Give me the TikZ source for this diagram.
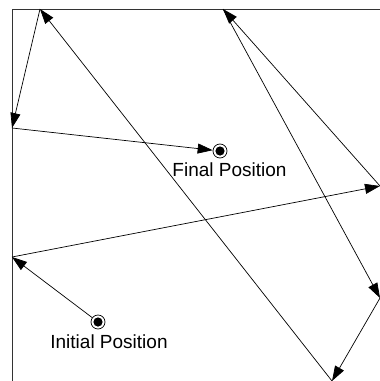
\documentclass[tikz,border=0pt]{standalone}
\usepackage{fontspec}
\setmainfont{Liberation Sans}
\usetikzlibrary{arrows.meta}
\begin{document}
\begin{tikzpicture}[x=1pt,y=-1pt,
  wall/.style={draw=black!80,line width=0.9pt},
  path seg/.style={draw=black,line width=0.7pt},
  arr/.style={path seg,-{Triangle[length=15pt,width=10pt]}},
  marker/.style={circle,draw=black,line width=0.7pt,inner sep=0pt,minimum size=14pt},
  lbl/.style={inner sep=0pt,font=\fontsize{19}{22}\selectfont}]
\useasboundingbox (0,0) rectangle (380,381);
\coordinate (TL) at (12,9);
\coordinate (TR) at (381,9);
\coordinate (BL) at (12,382);
\draw[wall] (TR) -- (TL) -- (BL);
\coordinate (A) at (12,257);
\coordinate (B) at (380,186);
\coordinate (C) at (223,9);
\coordinate (D) at (380,298);
\coordinate (E) at (332,381);
\coordinate (F) at (40,9);
\coordinate (G) at (12,128);
\node[marker] (ini) at (98,322) {};
\node[marker] (fin) at (220,151) {};
\fill (ini.center) circle (4.6pt);
\fill (fin.center) circle (4.6pt);
\draw[arr] (ini) -- (A);
\draw[arr] (A) -- (B);
\draw[arr] (B) -- (C);
\draw[arr] (C) -- (D);
\draw[arr] (D) -- (E);
\draw[arr] (E) -- (F);
\draw[arr] (F) -- (G);
\draw[arr] (G) -- (fin);
\node[lbl] (finl) at (229.5,170) {Final Position};
\node[lbl] (inil) at (109,341.5) {Initial Position};
\end{tikzpicture}
\end{document}
